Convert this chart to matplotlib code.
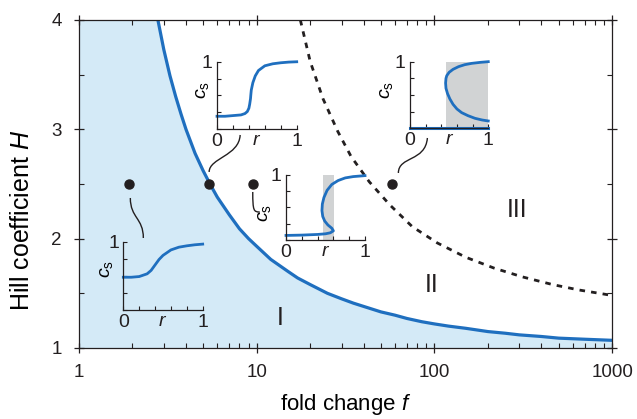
import numpy as np
import matplotlib
matplotlib.use('Agg')
import matplotlib.pyplot as plt
import matplotlib.transforms as mtransforms
from matplotlib.path import Path
from matplotlib.patches import PathPatch

plt.rcParams['font.family'] = ['Liberation Sans', 'DejaVu Sans']
plt.rcParams['mathtext.fontset'] = 'custom'
plt.rcParams['mathtext.rm'] = 'Liberation Sans'
plt.rcParams['mathtext.it'] = 'Liberation Sans:italic'
plt.rcParams['text.color'] = '#231f20'

# boundary I / II (solid)
sol_f = [2.78, 3.0, 3.25, 3.5, 3.75, 4, 4.5, 5, 5.5, 6, 7, 8, 9, 10, 12, 15, 17, 20, 25,
         30, 35, 40, 50, 60, 70, 85, 100, 120, 150, 200, 250, 300, 400, 500, 700, 1000]
sol_H = [4.00, 3.73, 3.49, 3.30, 3.14, 3.00, 2.78, 2.62, 2.49, 2.38, 2.22, 2.09, 2.00,
         1.93, 1.81, 1.70, 1.64, 1.58, 1.50, 1.45, 1.41, 1.38, 1.33, 1.30, 1.27, 1.24,
         1.22, 1.20, 1.18, 1.15, 1.135, 1.12, 1.105, 1.09, 1.08, 1.07]

# boundary II / III (dashed)
dash_f = [17.6, 20, 23.6, 28.6, 34, 43, 56, 75, 104, 150, 217, 313, 462, 653, 922, 1000]
dash_H = [4.00, 3.62, 3.28, 2.98, 2.75, 2.52, 2.31, 2.11, 1.96, 1.83, 1.73, 1.65,
          1.58, 1.53, 1.49, 1.48]

# example points
dot_f = [1.92, 5.4, 9.5, 58]
dot_H = [2.5, 2.5, 2.5, 2.5]

region_labels = ['I', 'II', 'III']
region_f = [13.5, 97, 292]
region_H = [1.27, 1.575, 2.26]

# inset curves c_s(r)
in1_r = [0, 0.1, 0.2, 0.3, 0.35, 0.4, 0.45, 0.5, 0.6, 0.7, 0.8, 0.9, 1.0]
in1_c = [0.48, 0.48, 0.49, 0.53, 0.58, 0.66, 0.74, 0.80, 0.88, 0.92, 0.94, 0.955, 0.965]

in2_r = [0, 0.1, 0.2, 0.3, 0.35, 0.38, 0.40, 0.41, 0.42, 0.425, 0.43, 0.45, 0.48, 0.52,
         0.6, 0.7, 0.8, 0.9, 1.0]
in2_c = [0.19, 0.19, 0.20, 0.21, 0.23, 0.26, 0.31, 0.37, 0.45, 0.52, 0.58, 0.69, 0.79,
         0.87, 0.94, 0.97, 0.985, 0.995, 1.0]

in3_r = [0, 0.2, 0.4, 0.5, 0.56, 0.6, 0.58, 0.53, 0.49, 0.465, 0.455, 0.46, 0.48, 0.52,
         0.58, 0.66, 0.75, 0.85, 1.0]
in3_c = [0.07, 0.075, 0.085, 0.095, 0.11, 0.14, 0.18, 0.23, 0.29, 0.36, 0.45, 0.55, 0.65,
         0.76, 0.85, 0.91, 0.95, 0.97, 0.985]
in3_band = (0.47, 0.61)

in4_low_r = [0, 1]
in4_low_c = [0, 0]
in4_r = [1.0, 0.9, 0.79, 0.7, 0.62, 0.55, 0.5, 0.47, 0.46, 0.455, 0.46, 0.48, 0.51,
         0.55, 0.6, 0.66, 0.74, 0.83, 0.92, 1.0]
in4_c = [1.0, 0.99, 0.975, 0.955, 0.925, 0.885, 0.84, 0.79, 0.75, 0.68, 0.6, 0.52, 0.44,
         0.36, 0.29, 0.235, 0.19, 0.15, 0.125, 0.11]
in4_band = (0.455, 1.0)

BLUE = '#1f6fbf'
LIGHT = '#d4eaf7'
GRAY = '#d1d3d4'
DARK = '#231f20'

xlim = (1, 1000)
ylim = (1, 4)

fig = plt.figure(figsize=(6.37, 4.19), dpi=100)
ax = fig.add_axes([0.124, 0.1695, 0.837, 0.7828])
ax.set_xscale('log')
ax.set_xlim(*xlim)
ax.set_ylim(*ylim)

ax.fill_between([xlim[0]] + sol_f, ylim[0], [ylim[1]] + sol_H, color=LIGHT, lw=0)
ax.plot(sol_f, sol_H, color=BLUE, lw=2.3, solid_capstyle='butt')
ax.plot(dash_f, dash_H, color=DARK, lw=2, dashes=(2, 2.2))
ax.plot(dot_f, dot_H, 'o', color=DARK, ms=6.5)

for lab, f, h in zip(region_labels, region_f, region_H):
    ax.text(f, h, lab, fontsize=18, ha='center', va='center')

ax.set_xticks([1, 10, 100, 1000])
ax.set_xticklabels(['1', '10', '100', '1000'])
ax.set_yticks([1, 2, 3, 4])
ax.set_yticks([1.5, 2.5, 3.5], minor=True)
ax.tick_params(which='major', direction='inout', length=7, width=0.9, top=True,
               right=True, labelsize=13.5, colors=DARK)
ax.tick_params(which='minor', direction='in', length=3.5, width=0.8, top=True, right=True,
               colors=DARK)
ax.tick_params(axis='x', which='major', pad=8)
ax.tick_params(axis='y', which='major', pad=9)
for s in ax.spines.values():
    s.set_linewidth(0.9)
    s.set_color(DARK)

ax.set_xlabel('fold change $\\it{f}$', fontsize=16)
ax.xaxis.set_label_coords(0.5, -0.135)
ax.set_ylabel('Hill coefficient $\\it{H}$', fontsize=18)
ax.yaxis.set_label_coords(-0.085, 0.39)


def inset(rect, label_xy, band=None):
    a = fig.add_axes(rect)
    a.set_facecolor('none')
    a.set_xlim(0, 1)
    a.set_ylim(0, 1)
    for k in ('top', 'right'):
        a.spines[k].set_visible(False)
    for k in ('left', 'bottom'):
        a.spines[k].set_linewidth(0.9)
        a.spines[k].set_color(DARK)
    a.set_xticks(np.linspace(0, 1, 6))
    a.set_xticklabels(['0', '', '', '', '', '1'])
    a.set_yticks(np.linspace(0, 1, 5))
    a.set_yticklabels(['', '', '', '', '1'])
    a.tick_params(direction='in', length=3, width=0.8, labelsize=14, pad=3, colors=DARK)
    a.text(0.5, -0.045, '$r$', transform=a.transAxes, ha='center', va='top', fontsize=14)
    a.set_ylabel('$c_{\\rm s}$', fontsize=14)
    a.yaxis.set_label_coords(*label_xy)
    if band is not None:
        a.axvspan(band[0], band[1], ymax=1, color=GRAY, lw=0)
    return a


a1 = inset([0.1936, 0.2601, 0.1246, 0.163], (-0.105, 0.6))
a1.plot(in1_r, in1_c, color=BLUE, lw=2, clip_on=False)

a2 = inset([0.3407, 0.692, 0.1251, 0.1606], (-0.07, 0.58))
a2.plot(in2_r, in2_c, color=BLUE, lw=2, clip_on=False)

a3 = inset([0.449, 0.4272, 0.124, 0.156], (-0.16, 0.41), band=in3_band)
a3.plot(in3_r, in3_c, color=BLUE, lw=2, clip_on=False)

a4 = inset([0.6436, 0.6938, 0.1229, 0.159], (-0.19, 0.57), band=in4_band)
a4.plot(in4_low_r, in4_low_c, color=BLUE, lw=2.2, clip_on=False)
a4.plot(in4_r, in4_c, color=BLUE, lw=2, clip_on=False)

# squiggly connectors, offsets in pixels from each dot
squiggles = [
    [(1, -14), (1, -34), (14, -34), (14, -54)],
    [(0, 12), (0, 26), (30, 28), (31, 49)],
    [(0, -8), (0, -27), (1, -28), (7, -28)],
    [(6, 11), (6, 28), (33, 22), (35, 46)],
]
codes = [Path.MOVETO, Path.CURVE4, Path.CURVE4, Path.CURVE4]
for f, h, pts in zip(dot_f, dot_H, squiggles):
    tr = mtransforms.Affine2D() + mtransforms.ScaledTranslation(f, h, ax.transData)
    ax.add_patch(PathPatch(Path(pts, codes), transform=tr, fill=False, lw=1,
                           edgecolor=DARK, clip_on=False))

fig.savefig('out.png', dpi=100)
